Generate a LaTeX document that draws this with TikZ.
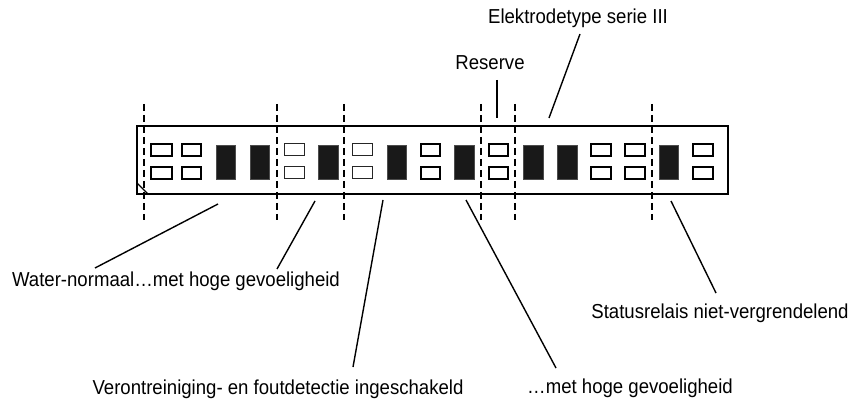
\documentclass[tikz,border=0pt]{standalone}
\usepackage{fontspec}
\setmainfont[FakeStretch=0.92]{Liberation Sans}
\begin{document}
\begin{tikzpicture}[x=1pt,y=-1pt,
  frame/.style={draw=black,line width=1.5pt},
  slot/.style={draw=black,line width=1.5pt,fill=white},
  thinslot/.style={draw=black!85,line width=1pt,fill=white},
  relay/.style={fill=black!90,draw=black!70,line width=0.6pt},
  divider/.style={draw=black,line width=1.6pt,dash pattern=on 7pt off 4pt},
  leader/.style={draw=black,line width=1.4pt},
  lbl/.style={inner sep=0pt,anchor=base,font=\fontsize{20.2}{24}\selectfont}]
\useasboundingbox (0,0) rectangle (853,403);

% terminal strip housing
\draw[frame] (137,126) rectangle (728,194);
\draw[line width=1.3pt] (137,183) -- (148,194);

% small switch slots (two rows)
\foreach \xa/\xb in {151/172,182/201,421/440,489/508,591/611,625/645,693/713}{
  \draw[slot] (\xa,144) rectangle (\xb,156);
  \draw[slot] (\xa,167) rectangle (\xb,179);
}
\foreach \xa/\xb in {284/304,352/372}{
  \draw[thinslot] (\xa,144) rectangle (\xb,156);
  \draw[thinslot] (\xa,167) rectangle (\xb,179);
}

% large filled blocks
\foreach \xa/\xb in {216/235,250/269,318/338,387/406,454/474,523/543,557/577,659/678}{
  \draw[relay] (\xa,145) rectangle (\xb,179);
}

% group separators
\foreach \x in {144,277,344,481,515,652}{
  \draw[divider] (\x,104) -- (\x,220);
}

% labels
\node[lbl] (elek) at (578,24) {Elektrodetype serie III};
\node[lbl] (res) at (490,70) {Reserve};
\node[lbl] (water) at (176,286) {Water-normaal…met hoge gevoeligheid};
\node[lbl] (stat) at (720,318) {Statusrelais niet-vergrendelend};
\node[lbl] (veron) at (278,394) {Verontreiniging- en foutdetectie ingeschakeld};
\node[lbl] (hoog) at (630,393) {…met hoge gevoeligheid};

% leader line end points
\coordinate (e1) at (580,34);   \coordinate (e2) at (549,118);
\coordinate (r1) at (497,80);   \coordinate (r2) at (497,118);
\coordinate (w1) at (218,204);  \coordinate (w2) at (95,268);
\coordinate (g1) at (315,201);  \coordinate (g2) at (277,269);
\coordinate (v1) at (383,200);  \coordinate (v2) at (353,367);
\coordinate (h1) at (466,200);  \coordinate (h2) at (556,368);
\coordinate (s1) at (671,201);  \coordinate (s2) at (716,293);

\draw[leader] (e1) -- (e2);
\draw[leader] (r1) -- (r2);
\draw[leader] (w1) -- (w2);
\draw[leader] (g1) -- (g2);
\draw[leader] (v1) -- (v2);
\draw[leader] (h1) -- (h2);
\draw[leader] (s1) -- (s2);
\end{tikzpicture}
\end{document}
